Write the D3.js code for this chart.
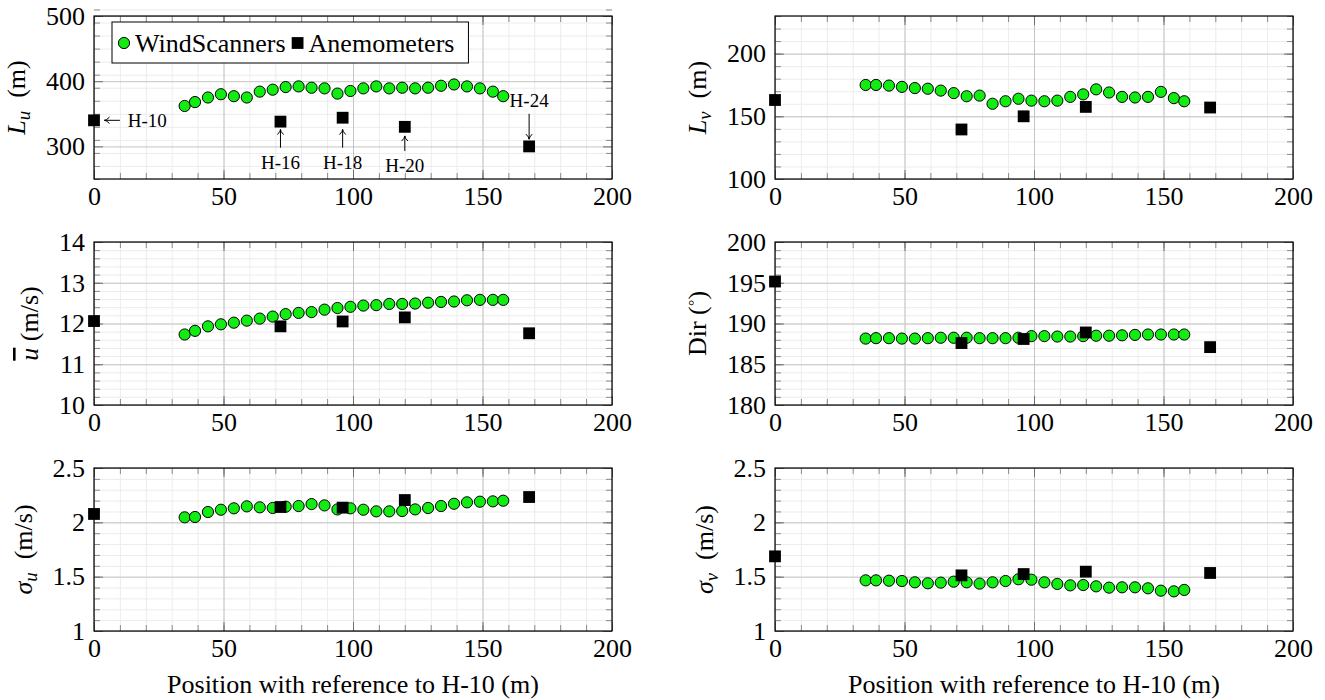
<!DOCTYPE html>
<html>
<head>
<meta charset="utf-8">
<script src="https://cdn.jsdelivr.net/npm/d3@7"></script>
<style>
  body { margin: 0; background: #fff; }
  svg text { font-family: "Liberation Serif", "Times New Roman", serif !important; fill: #000; }
</style>
</head>
<body>
<svg id="chart" width="1325" height="700"></svg>
<script>
// Measurement positions along the line (m from H-10)
const scanX = [35, 39, 44, 49, 54, 59, 64, 69, 74, 79, 84, 89, 94, 99, 104, 109, 114, 119, 124, 129, 134, 139, 144, 149, 154, 158];
const mastX = [0, 72, 96, 120, 168];
const mastNames = ["H-10", "H-16", "H-18", "H-20", "H-24"];
const xTicks = [0, 50, 100, 150, 200];

// Integral length scale, along-wind (m)
const luScan = [362, 368, 375, 380, 377, 375, 384, 387, 391, 392, 390, 389, 381, 385, 389, 392, 389, 390, 389, 390, 393, 395, 392, 389, 384, 377];
const luMast = [340, 338, 344, 330, 300];
const luTicks = [300, 400, 500];

// Integral length scale, cross-wind (m)
const lvScan = [175, 175, 174.5, 173.5, 172.5, 172, 170.5, 168.5, 166, 166.5, 160, 162, 164, 162.5, 162, 162.5, 165.5, 167.5, 171.5, 169, 165.5, 165, 165.5, 169.5, 164.5, 162];
const lvMast = [163, 139.5, 150, 157.5, 157];
const lvTicks = [100, 150, 200];

// Mean wind speed (m/s)
const uScan = [11.73, 11.82, 11.93, 11.98, 12.02, 12.07, 12.12, 12.17, 12.23, 12.26, 12.28, 12.34, 12.38, 12.41, 12.44, 12.45, 12.48, 12.48, 12.49, 12.51, 12.53, 12.54, 12.57, 12.58, 12.58, 12.58];
const uMast = [12.06, 11.93, 12.05, 12.15, 11.76];
const uTicks = [10, 11, 12, 13, 14];

// Mean wind direction (deg)
const dirScan = [188.15, 188.2, 188.2, 188.15, 188.15, 188.2, 188.25, 188.25, 188.25, 188.2, 188.2, 188.2, 188.25, 188.45, 188.45, 188.4, 188.4, 188.45, 188.5, 188.5, 188.55, 188.6, 188.65, 188.65, 188.65, 188.65];
const dirMast = [195.15, 187.6, 188.1, 188.9, 187.1];
const dirTicks = [180, 185, 190, 195, 200];

// Standard deviation, along-wind (m/s)
const suScan = [2.046, 2.049, 2.095, 2.116, 2.129, 2.147, 2.138, 2.132, 2.144, 2.15, 2.168, 2.156, 2.119, 2.129, 2.116, 2.101, 2.101, 2.104, 2.119, 2.132, 2.15, 2.171, 2.184, 2.19, 2.193, 2.199];
const suMast = [2.077, 2.141, 2.135, 2.205, 2.233];
const sigmaTicks = [1, 1.5, 2, 2.5];

// Standard deviation, cross-wind (m/s)
const svScan = [1.466, 1.466, 1.463, 1.46, 1.448, 1.439, 1.445, 1.454, 1.448, 1.436, 1.448, 1.46, 1.476, 1.472, 1.448, 1.433, 1.42, 1.423, 1.411, 1.399, 1.402, 1.402, 1.393, 1.371, 1.365, 1.378];
const svMast = [1.687, 1.512, 1.524, 1.546, 1.534];

const legendLabels = ["WindScanners", "Anemometers"];
const xTitle = "Position with reference to H-10 (m)";

// ---------------------------------------------------------------
const svg = d3.select("#chart");
const FS = 26;            // main font size
const W = 518, H = 163;   // plot area size
const colX = [94, 775];
const rowY = [16, 242, 468];
const GREEN = "#13ec13";
const R = 5.6;            // circle marker radius
const SQ = 11.8;          // square marker side

// Axis-label builders: each appends tspans to a rotated <text>
const labelL = sub => t => {
  t.append("tspan").attr("font-style", "italic").text("L");
  t.append("tspan").attr("font-style", "italic").attr("font-size", FS * 0.72).attr("dy", 5).text(sub);
  t.append("tspan").attr("dy", -5).text("\u2002(m)");
};
const labelSigma = sub => t => {
  t.append("tspan").attr("font-style", "italic").text("\u03c3");
  t.append("tspan").attr("font-style", "italic").attr("font-size", FS * 0.72).attr("dy", 5).text(sub);
  t.append("tspan").attr("dy", -5).text("\u2002(m/s)");
};
const labelUbar = t => {
  t.append("tspan").attr("font-style", "italic").style("text-decoration", "overline").text("u");
  t.append("tspan").text(" (m/s)");
};
const labelDir = t => {
  t.append("tspan").text("Dir (");
  t.append("tspan").attr("font-size", FS * 0.72).attr("dy", -9).text("\u25e6");
  t.append("tspan").attr("dy", 9).text(")");
};

const panels = [
  { col: 0, row: 0, domain: [250, 500], ticks: luTicks, minor: 20, scan: luScan, mast: luMast, label: labelL("u") },
  { col: 1, row: 0, domain: [100, 230], ticks: lvTicks, minor: 10, scan: lvScan, mast: lvMast, label: labelL("v") },
  { col: 0, row: 1, domain: [10, 14], ticks: uTicks, minor: 0.2, scan: uScan, mast: uMast, label: labelUbar },
  { col: 1, row: 1, domain: [180, 200], ticks: dirTicks, minor: 1, scan: dirScan, mast: dirMast, label: labelDir },
  { col: 0, row: 2, domain: [1, 2.5], ticks: sigmaTicks, minor: 0.1, scan: suScan, mast: suMast, label: labelSigma("u") },
  { col: 1, row: 2, domain: [1, 2.5], ticks: sigmaTicks, minor: 0.1, scan: svScan, mast: svMast, label: labelSigma("v") }
];

function steps(lo, hi, step) {
  const n = Math.round((hi - lo) / step);
  return d3.range(n + 1).map(i => +(lo + i * step).toFixed(6));
}

function styleGrid(sel, color) {
  sel.select(".domain").remove();
  sel.selectAll("line").attr("stroke", color).attr("stroke-width", 1);
}

function drawPanel(p) {
  const g = svg.append("g").attr("transform", `translate(${colX[p.col]},${rowY[p.row]})`);
  const x = d3.scaleLinear().domain([0, 200]).range([0, W]);
  const y = d3.scaleLinear().domain(p.domain).range([H, 0]);
  const xMinor = steps(0, 200, 10);
  const yMinor = steps(p.domain[0], p.domain[1], p.minor);

  // minor grid
  g.append("g").attr("transform", `translate(0,${H})`)
    .call(d3.axisBottom(x).tickValues(xMinor).tickSize(-H).tickFormat(""))
    .call(s => styleGrid(s, "#ececec"));
  g.append("g")
    .call(d3.axisLeft(y).tickValues(yMinor).tickSize(-W).tickFormat(""))
    .call(s => styleGrid(s, "#ececec"));
  // major grid
  g.append("g").attr("transform", `translate(0,${H})`)
    .call(d3.axisBottom(x).tickValues(xTicks).tickSize(-H).tickFormat(""))
    .call(s => styleGrid(s, "#c4c4c4"));
  g.append("g")
    .call(d3.axisLeft(y).tickValues(p.ticks).tickSize(-W).tickFormat(""))
    .call(s => styleGrid(s, "#c4c4c4"));

  // inward tick marks on all four sides
  const tickSets = [
    [d3.axisBottom(x), `translate(0,${H})`, xMinor, xTicks],
    [d3.axisTop(x), null, xMinor, xTicks],
    [d3.axisLeft(y), null, yMinor, p.ticks],
    [d3.axisRight(y), `translate(${W},0)`, yMinor, p.ticks]
  ];
  tickSets.forEach(([ax, tr, minorV, majorV]) => {
    const gm = g.append("g");
    if (tr) gm.attr("transform", tr);
    gm.call(ax.tickValues(minorV).tickSize(-6).tickFormat(""))
      .call(s => styleGrid(s, "#8a8a8a"));
    const gM = g.append("g");
    if (tr) gM.attr("transform", tr);
    gM.call(ax.tickValues(majorV).tickSize(-9).tickFormat(""))
      .call(s => styleGrid(s, "#6e6e6e"));
  });

  // frame
  g.append("rect").attr("width", W).attr("height", H)
    .attr("fill", "none").attr("stroke", "#000").attr("stroke-width", 1.2);

  // tick labels
  const xl = g.append("g").attr("transform", `translate(0,${H})`)
    .call(d3.axisBottom(x).tickValues(xTicks).tickSize(0).tickPadding(8).tickFormat(d => d));
  xl.select(".domain").remove();
  xl.selectAll("text").attr("font-size", FS);
  const yl = g.append("g")
    .call(d3.axisLeft(y).tickValues(p.ticks).tickSize(0).tickPadding(9).tickFormat(d => d));
  yl.select(".domain").remove();
  yl.selectAll("text").attr("font-size", FS);

  // axis title (rotated), placed left of the tick labels
  const yb = yl.node().getBBox();
  const t = g.append("text")
    .attr("font-size", FS)
    .attr("text-anchor", "middle")
    .attr("transform", `translate(${yb.x - 21},${H / 2}) rotate(-90)`);
  p.label(t);

  if (p.row === 2) {
    g.append("text").attr("x", W / 2).attr("y", H + 62)
      .attr("text-anchor", "middle").attr("font-size", FS).text(xTitle);
  }

  // markers
  g.append("g").selectAll("circle").data(p.scan).join("circle")
    .attr("cx", (d, i) => x(scanX[i])).attr("cy", d => y(d)).attr("r", R)
    .attr("fill", GREEN).attr("stroke", "#000").attr("stroke-width", 1);
  g.append("g").selectAll("rect").data(p.mast).join("rect")
    .attr("x", (d, i) => x(mastX[i]) - SQ / 2).attr("y", d => y(d) - SQ / 2)
    .attr("width", SQ).attr("height", SQ).attr("fill", "#000");

  return { g, x, y };
}

const drawn = panels.map(drawPanel);

// ---- legend and mast annotations on the L_u panel ----
(function () {
  const { g, x, y } = drawn[0];
  const lg = g.append("g").attr("transform", "translate(18,6)");
  const box = lg.append("rect").attr("fill", "#fff").attr("stroke", "#000").attr("stroke-width", 1);
  let cx = 12;
  lg.append("circle").attr("cx", cx).attr("cy", 21).attr("r", R)
    .attr("fill", GREEN).attr("stroke", "#000");
  const t1 = lg.append("text").attr("x", cx + 11).attr("y", 30).attr("font-size", FS).text(legendLabels[0]);
  cx = cx + 11 + t1.node().getComputedTextLength() + 12;
  lg.append("rect").attr("x", cx - SQ / 2).attr("y", 21 - SQ / 2).attr("width", SQ).attr("height", SQ).attr("fill", "#000");
  const t2 = lg.append("text").attr("x", cx + 11).attr("y", 30).attr("font-size", FS).text(legendLabels[1]);
  const wBox = cx + 11 + t2.node().getComputedTextLength() + 14;
  box.attr("width", wBox).attr("height", 41);

  // arrow helper (open LaTeX-like head)
  function arrow(x1, y1, x2, y2) {
    g.append("line").attr("x1", x1).attr("y1", y1).attr("x2", x2).attr("y2", y2)
      .attr("stroke", "#000").attr("stroke-width", 1);
    const a = Math.atan2(y2 - y1, x2 - x1), L = 6, s = 0.55;
    const p1 = [x2 - L * Math.cos(a - s), y2 - L * Math.sin(a - s)];
    const p2 = [x2 - L * Math.cos(a + s), y2 - L * Math.sin(a + s)];
    g.append("path").attr("d", `M${p1}Q${x2 - 2 * Math.cos(a)},${y2 - 2 * Math.sin(a)} ${x2},${y2}Q${x2 - 2 * Math.cos(a)},${y2 - 2 * Math.sin(a)} ${p2}`)
      .attr("fill", "none").attr("stroke", "#000").attr("stroke-width", 1);
  }
  const afs = 19;
  // H-10: arrow pointing left, label to the right
  arrow(x(10), y(luMast[0]), x(4), y(luMast[0]));
  g.append("text").attr("x", x(13)).attr("y", y(luMast[0])).attr("dy", "0.34em")
    .attr("font-size", afs).text(mastNames[0]);
  // H-16, H-18, H-20: arrows pointing up, labels below
  [[1, 326, 298, 275], [2, 326, 298, 275], [3, 316, 293, 270]].forEach(([i, head, tail, ty]) => {
    arrow(x(mastX[i]), y(tail), x(mastX[i]), y(head));
    g.append("text").attr("x", x(mastX[i])).attr("y", y(ty)).attr("dy", "0.34em")
      .attr("text-anchor", "middle").attr("font-size", afs).text(mastNames[i]);
  });
  // H-24: label above, arrow pointing down
  arrow(x(mastX[4]), y(350), x(mastX[4]), y(311));
  g.append("text").attr("x", x(mastX[4])).attr("y", y(370)).attr("dy", "0.34em")
    .attr("text-anchor", "middle").attr("font-size", afs).text(mastNames[4]);
})();
</script>
</body>
</html>
